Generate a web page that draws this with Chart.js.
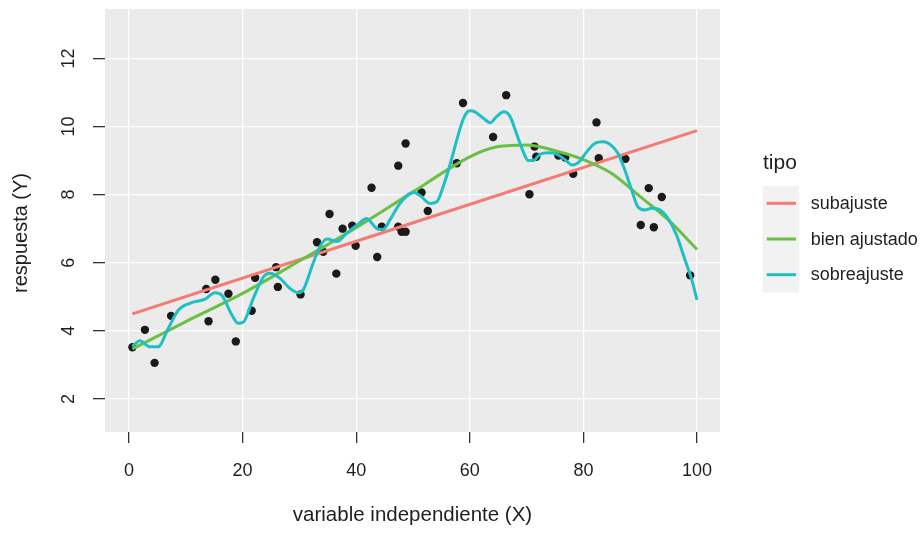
<!DOCTYPE html>
<html>
<head>
<meta charset="utf-8">
<script src="https://cdn.jsdelivr.net/npm/chart.js@4.4.0/dist/chart.umd.min.js"></script>
<style>
  html, body { margin: 0; padding: 0; background: #ffffff; }
  canvas { display: block; }
</style>
</head>
<body>
<canvas id="grafico" width="921" height="533"></canvas>
<script>
// observed points
const puntosX = [0.6, 2.8, 4.5, 7.4, 13.6, 14.0, 15.2, 17.5, 18.8, 21.6, 22.2, 25.9, 26.2, 30.2, 33.1, 34.2, 35.3, 36.5, 37.6, 39.3,
    39.9, 42.7, 43.7, 44.5, 47.4, 48.0, 48.7, 47.4, 48.7, 51.5, 52.6, 57.7, 58.8, 64.1, 66.4, 70.5, 71.4, 71.7, 75.6, 76.8,
    78.2, 82.3, 82.7, 87.4, 90.1, 91.5, 92.4, 93.8, 98.8];
const puntosY = [3.52, 4.03, 3.06, 4.44, 5.23, 4.28, 5.50, 5.09, 3.69, 4.59, 5.56, 5.87, 5.29, 5.07, 6.60, 6.32, 7.43, 5.68, 7.00, 7.09,
    6.50, 8.20, 6.17, 7.06, 7.06, 6.91, 6.91, 8.85, 9.50, 8.06, 7.52, 8.92, 10.69, 9.69, 10.92, 8.01, 9.41, 9.11, 9.15, 9.09,
    8.61, 10.12, 9.07, 9.05, 7.11, 8.19, 7.04, 7.93, 5.63];

// fitted curves
const subajusteX = [0.6, 100];
const subajusteY = [4.50, 9.88];

const bienX = [0.6, 10, 20, 30, 40, 50, 60, 65, 70, 75, 80, 85, 90, 95, 100];
const bienY = [3.47, 4.27, 5.10, 6.05, 7.03, 8.08, 9.11, 9.41, 9.46, 9.29, 9.03, 8.62, 7.94, 7.25, 6.39];

const sobreX = [0.6, 1.9, 3.7, 5.1, 6.9, 8.7, 10.7, 13.4, 15.1, 16.3, 18.1, 19.2, 20.1, 21.9, 23.7, 24.8, 26.6, 28.3, 29.8, 30.7,
    32.4, 33.6, 34.8, 36.6, 38.3, 40.4, 41.8, 43.9, 44.8, 45.9, 47.7, 50.1, 51.2, 53.0, 54.2, 55.3, 56.5, 57.7, 58.9, 60.0,
    60.9, 62.4, 63.6, 64.7, 66.0, 67.1, 68.2, 69.4, 70.3, 71.2, 72.4, 73.8, 75.3, 76.8, 78.0, 79.1, 80.6, 82.0, 83.5, 85.0,
    86.1, 87.3, 88.5, 89.6, 90.8, 92.0, 93.5, 94.9, 96.4, 97.9, 99.1, 100];
const sobreY = [3.54, 3.71, 3.53, 3.53, 4.07, 4.61, 4.81, 4.93, 5.12, 5.05, 4.47, 4.22, 4.25, 4.96, 5.59, 5.69, 5.54, 5.25, 5.12, 5.21,
    5.98, 6.47, 6.70, 6.62, 6.86, 7.14, 7.30, 6.98, 6.98, 7.25, 7.74, 8.06, 7.98, 7.74, 7.79, 8.23, 8.87, 9.60, 10.24, 10.46,
    10.43, 10.24, 10.11, 10.29, 10.43, 10.29, 9.80, 9.26, 9.00, 9.00, 9.19, 9.23, 9.19, 9.02, 8.87, 8.94, 9.26, 9.50, 9.55, 9.43,
    9.21, 8.72, 8.13, 7.64, 7.55, 7.60, 7.55, 7.30, 6.81, 6.08, 5.49, 4.91];

const ticksX = [0, 20, 40, 60, 80, 100];
const ticksY = [2, 4, 6, 8, 10, 12];
const tipos = ["subajuste", "bien ajustado", "sobreajuste"];
const colores = ["#F37B72", "#6CBF45", "#1FBFC3"];

const fontFamily = "'Liberation Sans', Arial, Helvetica, sans-serif";
const textColour = "#1f1f1f";

const zip = (xs, ys) => xs.map((x, i) => ({x: x, y: ys[i]}));

// grey panel behind the grid
const panelPlugin = {
    id: 'panel_background',
    beforeDraw: (chart) => {
        const ctx = chart.ctx;
        const area = chart.chartArea;
        ctx.save();
        ctx.fillStyle = '#ffffff';
        ctx.fillRect(0, 0, chart.width, chart.height);
        ctx.fillStyle = '#EBEBEB';
        ctx.fillRect(area.left, area.top, area.right - area.left, area.bottom - area.top);
        ctx.restore();
    }
};

// rotated y labels + y title, ggplot style
const yTextPlugin = {
    id: 'y_text',
    afterDraw: (chart) => {
        const ctx = chart.ctx;
        const yScale = chart.scales.y;
        ctx.save();
        ctx.fillStyle = textColour;
        ctx.textAlign = 'center';
        ctx.textBaseline = 'middle';
        ctx.font = `18px ${fontFamily}`;
        for (const tick of yScale.ticks) {
            const py = yScale.getPixelForValue(tick.value);
            ctx.save();
            ctx.translate(68.8, py);
            ctx.rotate(-Math.PI / 2);
            ctx.fillText(String(tick.value), 0, 0);
            ctx.restore();
        }
        ctx.font = `20px ${fontFamily}`;
        ctx.translate(21, 233);
        ctx.rotate(-Math.PI / 2);
        ctx.fillText("respuesta (Y)", 0, 0);
        ctx.restore();
    }
};

// legend on the right, drawn from the line datasets
const legendPlugin = {
    id: 'tipo_legend',
    afterDraw: (chart) => {
        const ctx = chart.ctx;
        const lines = chart.data.datasets.filter(d => d.showLine);
        ctx.save();
        ctx.fillStyle = textColour;
        ctx.textAlign = 'left';
        ctx.textBaseline = 'alphabetic';
        ctx.font = `21px ${fontFamily}`;
        ctx.fillText("tipo", 763, 168.6);

        ctx.fillStyle = '#F2F2F2';
        ctx.fillRect(762.7, 186, 36.3, 106.7);

        ctx.font = `18px ${fontFamily}`;
        lines.forEach((d, i) => {
            const ly = 203.3 + i * 35.7;
            ctx.strokeStyle = d.borderColor;
            ctx.lineWidth = 3;
            ctx.beginPath();
            ctx.moveTo(766.7, ly);
            ctx.lineTo(796, ly);
            ctx.stroke();
            ctx.fillStyle = textColour;
            ctx.fillText(d.label, 810.7, ly + 5.6);
        });
        ctx.restore();
    }
};

const lineStyle = {
    showLine: true,
    pointRadius: 0,
    borderWidth: 3,
    cubicInterpolationMode: 'monotone',
    fill: false,
};

const datasets = [
    Object.assign({label: tipos[0], data: zip(subajusteX, subajusteY), borderColor: colores[0], backgroundColor: colores[0], order: 2}, lineStyle),
    Object.assign({label: tipos[1], data: zip(bienX, bienY), borderColor: colores[1], backgroundColor: colores[1], order: 1}, lineStyle),
    Object.assign({label: tipos[2], data: zip(sobreX, sobreY), borderColor: colores[2], backgroundColor: colores[2], order: 0}, lineStyle),
    {
        label: "datos",
        data: zip(puntosX, puntosY),
        showLine: false,
        pointRadius: 4.2,
        pointBorderWidth: 0,
        backgroundColor: '#1a1a1a',
        borderColor: '#1a1a1a',
        order: 3,
    },
];

new Chart(document.getElementById('grafico').getContext('2d'), {
    type: 'scatter',
    data: {datasets: datasets},
    options: {
        responsive: false,
        animation: false,
        devicePixelRatio: 1,
        layout: {padding: {top: 9, right: 201, left: 0, bottom: 0}},
        plugins: {
            legend: {display: false},
            tooltip: {enabled: false},
        },
        scales: {
            x: {
                type: 'linear',
                min: -4.23,
                max: 104.05,
                afterFit: (s) => { s.height = 101; },
                afterBuildTicks: (s) => { s.ticks = ticksX.map(v => ({value: v})); },
                border: {display: false},
                grid: {color: '#ffffff', lineWidth: 1.3, tickColor: '#333333', tickLength: 11, tickWidth: 1.3},
                ticks: {
                    color: textColour,
                    font: {size: 18, family: fontFamily},
                    padding: 17,
                    maxRotation: 0,
                    autoSkip: false,
                },
                title: {
                    display: true,
                    text: "variable independiente (X)",
                    color: textColour,
                    font: {size: 20.5, family: fontFamily},
                    padding: {top: 0, bottom: 5.5},
                },
            },
            y: {
                type: 'linear',
                min: 1.03,
                max: 13.45,
                afterFit: (s) => { s.width = 105; },
                afterBuildTicks: (s) => { s.ticks = ticksY.map(v => ({value: v})); },
                border: {display: false},
                grid: {color: '#ffffff', lineWidth: 1.3, tickColor: '#333333', tickLength: 12, tickWidth: 1.3},
                ticks: {display: false},
            },
        },
    },
    plugins: [panelPlugin, yTextPlugin, legendPlugin],
});
</script>
</body>
</html>
